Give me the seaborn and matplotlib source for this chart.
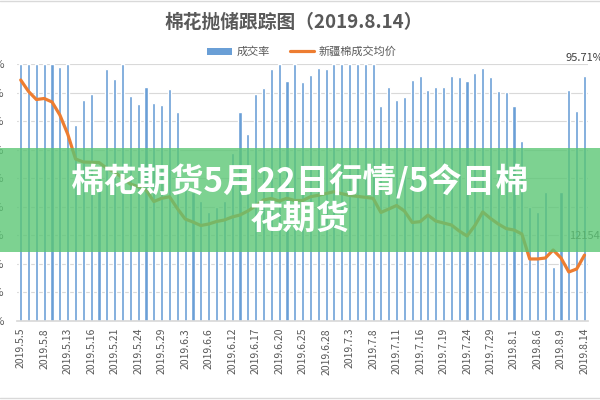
import numpy as np
import pandas as pd
import matplotlib
matplotlib.use("Agg")
import matplotlib.pyplot as plt
import seaborn as sns
from matplotlib.patches import Rectangle, Patch
from matplotlib.lines import Line2D

# trading days shown on the x axis
dates = ["2019.5.5", "2019.5.6", "2019.5.7", "2019.5.8", "2019.5.9", "2019.5.10",
         "2019.5.13", "2019.5.14", "2019.5.15", "2019.5.16", "2019.5.17",
         "2019.5.20", "2019.5.21", "2019.5.22", "2019.5.23", "2019.5.24",
         "2019.5.27", "2019.5.28", "2019.5.29", "2019.5.30", "2019.5.31",
         "2019.6.3", "2019.6.4", "2019.6.5", "2019.6.6",
         "2019.6.10", "2019.6.11", "2019.6.12", "2019.6.13", "2019.6.14",
         "2019.6.17", "2019.6.18", "2019.6.19", "2019.6.20", "2019.6.21",
         "2019.6.24", "2019.6.25", "2019.6.26", "2019.6.27", "2019.6.28",
         "2019.7.1", "2019.7.2", "2019.7.3", "2019.7.4", "2019.7.5",
         "2019.7.8", "2019.7.9", "2019.7.10", "2019.7.11", "2019.7.12",
         "2019.7.15", "2019.7.16", "2019.7.17", "2019.7.18", "2019.7.19",
         "2019.7.22", "2019.7.23", "2019.7.24", "2019.7.25", "2019.7.26",
         "2019.7.29", "2019.7.30", "2019.7.31", "2019.8.1", "2019.8.2",
         "2019.8.5", "2019.8.6", "2019.8.7", "2019.8.8", "2019.8.9",
         "2019.8.12", "2019.8.13", "2019.8.14"]

# 成交率 (%)
deal_rate = [100, 100, 100, 100, 100, 98.8, 100, 78.6, 87.4, 89.6,
             60, 98.2, 94.9, 100, 88.8, 86.0, 92.1, 86.4, 85.6, 91.1,
             83.3, 60, 55, 52, 48, 50, 52, 68.9, 83.1, 75.4,
             89.4, 91.7, 98.2, 100, 94.2, 100, 93.8, 96.2, 98.5, 98.2,
             100, 100, 100, 100, 100, 100, 85.3, 91.8, 87.4, 88.3,
             94.4, 95.8, 90.9, 91.8, 92.1, 95.8, 95.6, 94.2, 97.0, 98.5,
             95.6, 90.5, 90.1, 85.3, 73.0, 50, 48, 55, 29, 55,
             90.9, 83.6, 95.71]

# 新疆棉成交均价 (元/吨)
avg_price = [15220, 15019, 14878, 14896, 14835, 14607, 14274, 13837, 13784, 13779,
             13775, 13674, 13609, 13504, 13399, 13352, 13294, 13092, 13148, 13176,
             12970, 12786, 12733, 12672, 12698, 12742, 12768, 12821, 12856, 12926,
             13014, 13119, 13145, 13101, 13148, 13110, 13110, 13176, 13201, 13232,
             13264, 13229, 13199, 13182, 13166, 13148, 12900, 12961, 13022, 12926,
             12725, 12739, 12853, 12751, 12716, 12681, 12576, 12488, 12672, 12909,
             12795, 12698, 12618, 12593, 12523, 12086, 12086, 12103, 12243, 12103,
             11858, 11911, 12154]

title = "棉花抛储跟踪图（2019.8.14）"
overlay = "棉花期货5月22日行情/5今日棉\n花期货"

sns.set_theme(style="white")
plt.rcParams["font.family"] = ["Noto Sans CJK SC", "DejaVu Sans"]

blue = "#6A9FD6"
orange = "#ED7D31"
grey = "#595959"

df = pd.DataFrame({"date": dates, "rate": deal_rate, "price": avg_price})

fig = plt.figure(figsize=(6, 4), dpi=100)
ax = fig.add_axes([0.028, 0.1975, 0.9527, 0.6425])

sns.barplot(data=df, x="date", y="rate", color=blue, width=0.4,
            saturation=1, ax=ax)
ax.set_ylim(10, 100)
ax.set_yticks(range(10, 101, 10))
ax.set_yticklabels([f"{v}%" for v in range(10, 101, 10)], color=grey, fontsize=8)
ax.tick_params(axis="y", length=0, pad=9)
ax.set_xticks(range(0, len(dates), 3))
ax.set_xticklabels(dates[::3], rotation=90, fontsize=7.5, color=grey)
ax.tick_params(axis="x", length=0, pad=5)
ax.set_xlabel("")
ax.set_ylabel("")
ax.grid(axis="y", color="#D9D9D9", linewidth=0.8)
ax.set_axisbelow(True)
for s in ["top", "left", "right"]:
    ax.spines[s].set_visible(False)
ax.spines["bottom"].set_color("#D9D9D9")

ax.annotate("95.71%", (len(dates) - 1, deal_rate[-1]), xytext=(0, 13),
            textcoords="offset points", ha="center", va="center",
            fontsize=8, color="#404040")

ax2 = ax.twinx()
sns.lineplot(x=np.arange(len(dates)), y=avg_price, color=orange,
             linewidth=2.3, ax=ax2)
ax2.set_ylim(11000, 15500)
ax2.set_yticks([])
ax2.set_ylabel("")
for s in ax2.spines.values():
    s.set_visible(False)
ax2.annotate(str(avg_price[-1]), (len(dates) - 1, avg_price[-1]), xytext=(0, 14),
             textcoords="offset points", ha="center", va="center",
             fontsize=8, color="#595959")

# lineplot pads the shared x axis, put it back to the bar categories
ax.set_xlim(-0.5, len(dates) - 0.5)

fig.text(0.49, 0.945, title, ha="center", va="center", fontsize=13.5,
         fontweight="bold", color=grey)

handles = [Patch(facecolor=blue, edgecolor="none"),
           Line2D([0], [0], color=orange, linewidth=2.3)]
fig.legend(handles, ["成交率", "新疆棉成交均价"], loc="center",
           bbox_to_anchor=(0.503, 0.87), ncol=2, frameon=False,
           fontsize=8, labelcolor=grey, handlelength=2.2, columnspacing=1.8,
           handletextpad=0.4)

# border lines of the chart image
fig.add_artist(Line2D([0, 1], [0.997, 0.997], color="#D9D9D9", linewidth=1))
fig.add_artist(Line2D([0, 1], [0.005, 0.005], color="#D9D9D9", linewidth=1))

# green banner with headline
fig.add_artist(Rectangle((0, 1 - 252 / 400), 1, 104 / 400, transform=fig.transFigure,
                         facecolor="#5AC674", alpha=0.79, edgecolor="none", zorder=5))
fig.text(0.5, 1 - 200 / 400, overlay, ha="center", va="center", fontsize=24,
         fontweight="bold", color="white", linespacing=1.15, zorder=6)

fig.savefig("out.png", dpi=100)
